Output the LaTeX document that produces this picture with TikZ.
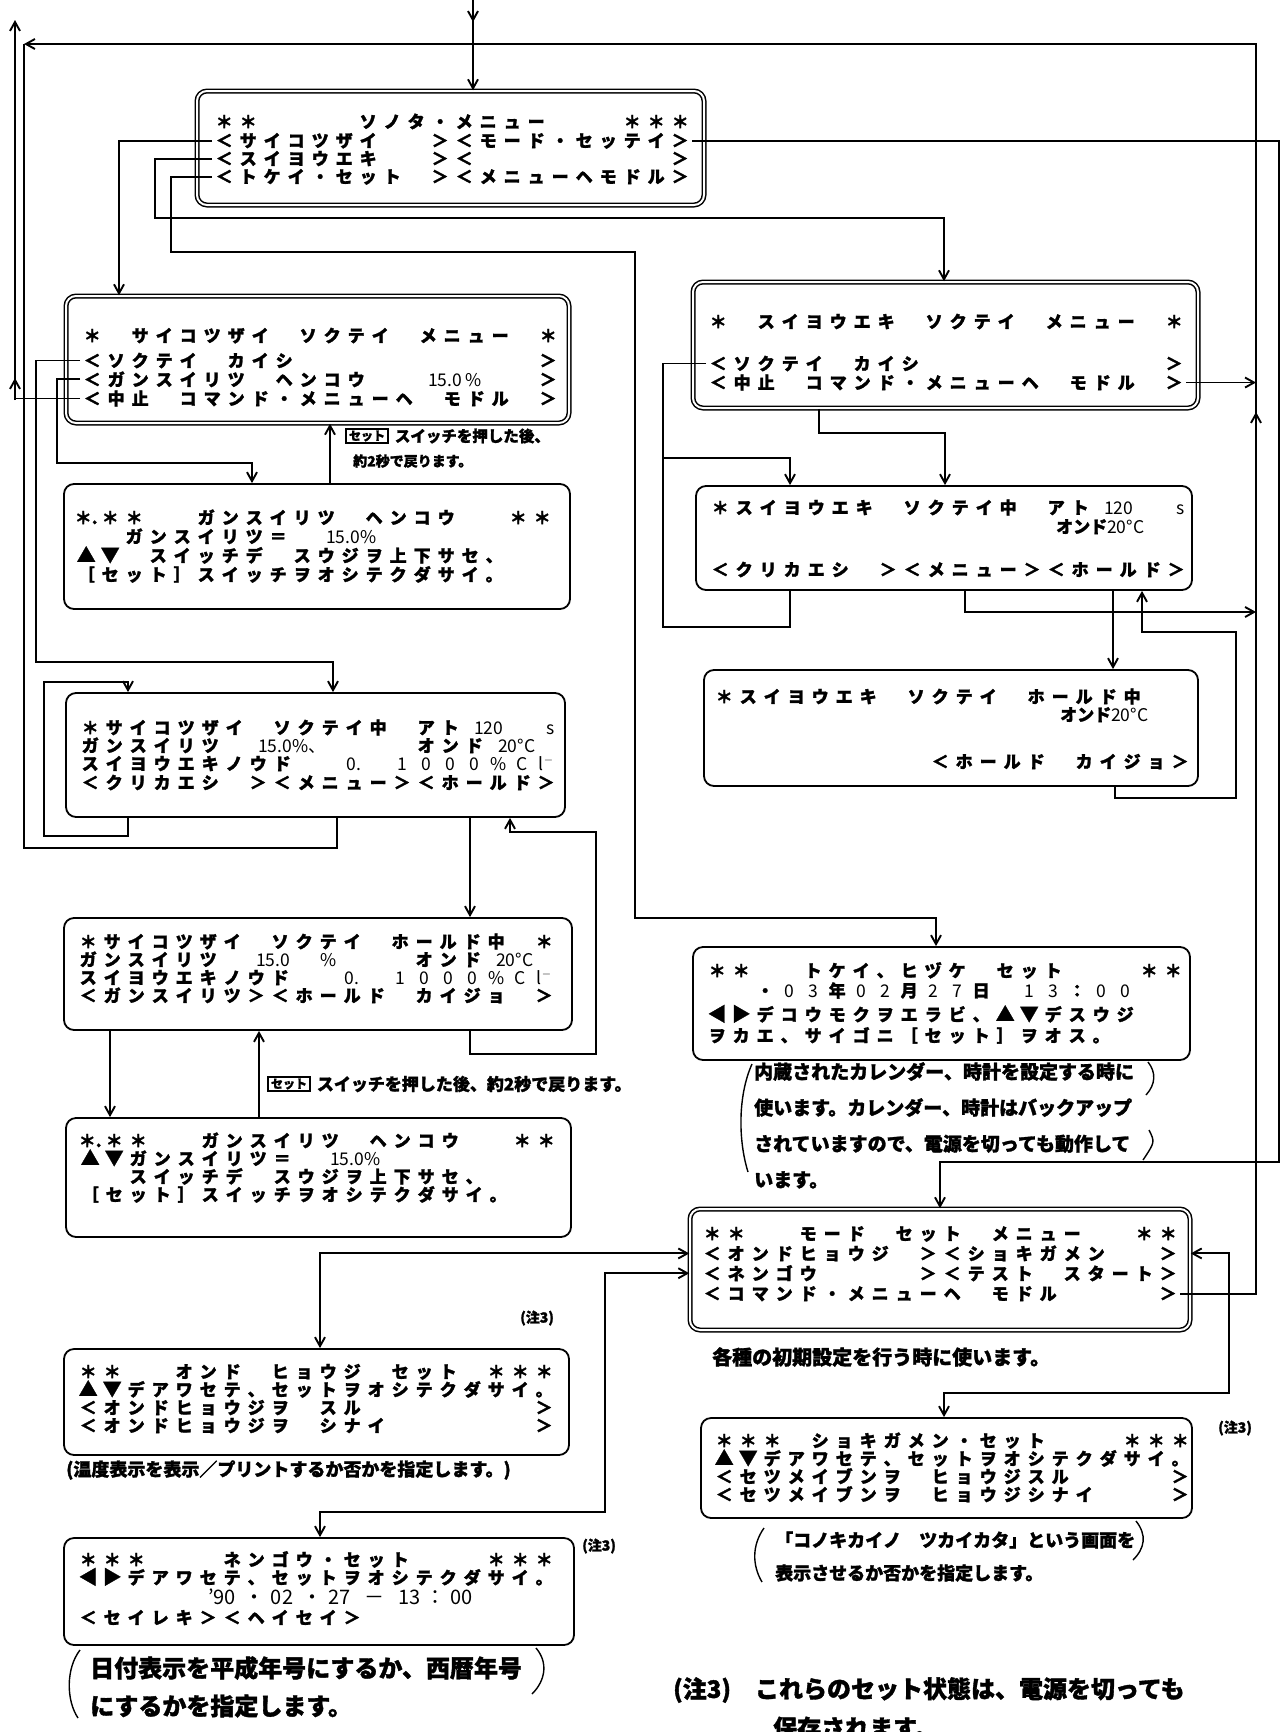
\documentclass[tikz,border=0pt]{standalone}
\usepackage{fontspec}
\usetikzlibrary{arrows.meta,positioning}
\newfontfamily\jp{Noto Sans CJK JP}[BoldFeatures={FakeBold=1.5}]
\newlength\lcdpitch
\setlength\lcdpitch{24pt}
\ExplSyntaxOn
\NewDocumentCommand\lcd{m}{\tl_map_inline:nn{#1}{\makebox[\lcdpitch][c]{##1}}}
\ExplSyntaxOff
\newcommand\lcdfont{\jp\bfseries\fontsize{17}{17}\selectfont}
\newcommand\lcdnumfont{\mdseries\fontsize{17.5}{17.5}\selectfont}
\newcommand\lcdnum[1]{\rlap{\lcdnumfont #1}}
\newcommand\lcdbig[1]{{\lcdnumfont #1}}
\newcommand\lcdsym[1]{{\fontsize{19}{19}\selectfont #1}}
\newcommand\notefont{\jp\bfseries\fontsize{14}{14}\selectfont}
\newcommand\capfont{\jp\bfseries\fontsize{18}{18}\selectfont}
\newcommand\bigcapfont{\jp\bfseries\fontsize{24}{24}\selectfont}

\begin{document}
\begin{tikzpicture}[
    x=1pt, y=-1pt,
    screen/.style={draw, rounded corners=10pt, line width=1.8pt},
    mainscreen/.style={draw, rounded corners=10pt, line width=1.5pt, double=white, double distance=2pt},
    lcdrow/.style={inner sep=0pt, anchor=base west, font=\lcdfont},
    remark/.style={inner sep=0pt, anchor=west, font=\notefont},
    setkey/.style={draw, line width=1.4pt, inner xsep=3pt, inner ysep=1.5pt, font=\jp\bfseries\fontsize{12}{12}\selectfont},
    wire/.style={line width=1.9pt},
    arrow/.style={-{Straight Barb[length=9pt,width=10pt]}, line width=1.9pt},
    twoway/.style={{Straight Barb[length=9pt,width=10pt]}-{Straight Barb[length=9pt,width=10pt]}, line width=1.9pt}
]
\useasboundingbox (0,0) rectangle (1281,1732);
\fill[white] (0,0) rectangle (1281,1732);

% ---- screens of the left column
\node[mainscreen, minimum width=507pt, minimum height=114pt] (sonota) at (450.5,148) {};
\node[lcdrow] (sonota-1) at (212,128) {\lcd{＊＊　　　　ソノタ・メニュー　　　＊＊＊}};
\node[lcdrow] (sonota-2) at (212,147) {\lcd{＜サイコツザイ　　＞＜モード・セッテイ＞}};
\node[lcdrow] (sonota-3) at (212,165) {\lcd{＜スイヨウエキ　　＞＜　　　　　　　　＞}};
\node[lcdrow] (sonota-4) at (212,183) {\lcd{＜トケイ・セット　＞＜メニューヘモドル＞}};

\node[mainscreen, minimum width=503pt, minimum height=127pt] (saimenu) at (317.5,359.5) {};
\node[lcdrow] (saimenu-1) at (80,342) {\lcd{＊　サイコツザイ　ソクテイ　メニュー　＊}};
\node[lcdrow] (saimenu-2) at (80,367) {\lcd{＜ソクテイ　カイシ　　　　　　　　　　＞}};
\node[lcdrow] (saimenu-3) at (80,386) {\lcd{＜ガンスイリツ　ヘンコウ　　{\lcdnum{15.0\,\%}}　　　　＞}};
\node[lcdrow] (saimenu-4) at (80,405) {\lcd{＜中止　コマンド・メニューヘ　モドル　＞}};

\node[screen, minimum width=506pt, minimum height=125pt] (saigan) at (317,546.5) {};
\node[lcdrow] (saigan-1) at (74,524) {\lcd{{＊.}＊＊　　ガンスイリツ　ヘンコウ　　＊＊}};
\node[lcdrow] (saigan-2) at (74,543) {\lcd{　　ガンスイリツ＝　{\lcdnum{15.0\%}}}};
\node[lcdrow] (saigan-3) at (74,562) {\lcd{{\lcdsym{▲}}{\lcdsym{▼}}　スイッチデ　スウジヲ上下サセ、}};
\node[lcdrow] (saigan-4) at (74,581) {\lcd{［セット］スイッチヲオシテクダサイ。}};

\node[screen, minimum width=499pt, minimum height=124pt] (saisoku) at (315.5,755) {};
\node[lcdrow] (saisoku-1) at (78,734) {\lcd{＊サイコツザイ　ソクテイ中　アト{\lcdnum{120}}　　{\lcdnum{s}}}};
\node[lcdrow] (saisoku-2) at (78,752) {\lcd{ガンスイリツ　{\lcdnum{15.0\%、}}　　　　　　オンド{\lcdnum{20°C}}}};
\node[lcdrow] (saisoku-3) at (78,770) {\lcd{スイヨウエキノウド　　{\lcdbig{0.}}　{\lcdbig{1}}{\lcdbig{0}}{\lcdbig{0}}{\lcdbig{0}}{\lcdbig{\%}}{\lcdbig{C}}{\lcdbig{l$^-$}}}};
\node[lcdrow] (saisoku-4) at (78,789) {\lcd{＜クリカエシ　＞＜メニュー＞＜ホールド＞}};

\node[screen, minimum width=508pt, minimum height=112pt] (saihold) at (318,974) {};
\node[lcdrow] (saihold-1) at (76,948) {\lcd{＊サイコツザイ　ソクテイ　ホールド中　＊}};
\node[lcdrow] (saihold-2) at (76,966) {\lcd{ガンスイリツ　{\lcdnum{15.0}}　　{\lcdbig{\%}}　　　オンド{\lcdnum{20°C}}}};
\node[lcdrow] (saihold-3) at (76,984) {\lcd{スイヨウエキノウド　　{\lcdbig{0.}}　{\lcdbig{1}}{\lcdbig{0}}{\lcdbig{0}}{\lcdbig{0}}{\lcdbig{\%}}{\lcdbig{C}}{\lcdbig{l$^-$}}}};
\node[lcdrow] (saihold-4) at (76,1002) {\lcd{＜ガンスイリツ＞＜ホールド　カイジョ　＞}};

\node[screen, minimum width=505pt, minimum height=119pt] (saigan2) at (318.5,1177.5) {};
\node[lcdrow] (saigan2-1) at (78,1147) {\lcd{{＊.}＊＊　　ガンスイリツ　ヘンコウ　　＊＊}};
\node[lcdrow] (saigan2-2) at (78,1165) {\lcd{{\lcdsym{▲}}{\lcdsym{▼}}ガンスイリツ＝　{\lcdnum{15.0\%}}}};
\node[lcdrow] (saigan2-3) at (78,1183) {\lcd{　　スイッチデ　スウジヲ上下サセ、}};
\node[lcdrow] (saigan2-4) at (78,1201) {\lcd{［セット］スイッチヲオシテクダサイ。}};

\node[screen, minimum width=505pt, minimum height=106pt] (ondo) at (316.5,1402) {};
\node[lcdrow] (ondo-1) at (76,1378) {\lcd{＊＊　　オンド　ヒョウジ　セット　＊＊＊}};
\node[lcdrow] (ondo-2) at (76,1396) {\lcd{{\lcdsym{▲}}{\lcdsym{▼}}デアワセテ、セットヲオシテクダサイ。}};
\node[lcdrow] (ondo-3) at (76,1414) {\lcd{＜オンドヒョウジヲ　スル　　　　　　　＞}};
\node[lcdrow] (ondo-4) at (76,1432) {\lcd{＜オンドヒョウジヲ　シナイ　　　　　　＞}};

\node[screen, minimum width=510pt, minimum height=107pt] (nengo) at (319,1591.5) {};
\node[lcdrow] (nengo-1) at (76,1566) {\lcd{＊＊＊　　　ネンゴウ・セット　　　＊＊＊}};
\node[lcdrow] (nengo-2) at (76,1584) {\lcd{{\lcdsym{◀}}{\lcdsym{▶}}デアワセテ、セットヲオシテクダサイ。}};
\node[lcdrow] (nengo-3) at (76,1604) {\lcd{　　　　　{\lcdnum{\fontsize{20}{20}\selectfont’90\hspace{9pt}・\hspace{6pt}02\hspace{9pt}・\hspace{6pt}27\hspace{14pt}－\hspace{14pt}13\hspace{5pt}：\hspace{5pt}00}}}};
\node[lcdrow] (nengo-4) at (76,1624) {\lcd{＜セイレキ＞＜ヘイセイ＞}};

% ---- screens of the right column
\node[mainscreen, minimum width=505pt, minimum height=126pt] (suimenu) at (945.5,345) {};
\node[lcdrow] (suimenu-1) at (706,328) {\lcd{＊　スイヨウエキ　ソクテイ　メニュー　＊}};
\node[lcdrow] (suimenu-2) at (706,370) {\lcd{＜ソクテイ　カイシ　　　　　　　　　　＞}};
\node[lcdrow] (suimenu-3) at (706,389) {\lcd{＜中止　コマンド・メニューヘ　モドル　＞}};

\node[screen, minimum width=496pt, minimum height=104pt] (suisoku) at (944,538) {};
\node[lcdrow] (suisoku-1) at (708,514) {\lcd{＊スイヨウエキ　ソクテイ中　アト{\lcdnum{120}}　　{\lcdnum{s}}}};
\node[lcdrow] (suisoku-2) at (708,533) {\lcd{　　　　　　　　　　　　　　{\rlap{オンド\lcdnumfont 20°C}}}};
\node[lcdrow] (suisoku-4) at (708,576) {\lcd{＜クリカエシ　＞＜メニュー＞＜ホールド＞}};

\node[screen, minimum width=494pt, minimum height=116pt] (suihold) at (951,728) {};
\node[lcdrow] (suihold-1) at (712,703) {\lcd{＊スイヨウエキ　ソクテイ　ホールド中}};
\node[lcdrow] (suihold-2) at (712,721) {\lcd{　　　　　　　　　　　　　　{\rlap{オンド\lcdnumfont 20°C}}}};
\node[lcdrow] (suihold-4) at (712,768) {\lcd{　　　　　　　　　＜ホールド　カイジョ＞}};

\node[screen, minimum width=497pt, minimum height=113pt] (tokei) at (941.5,1003.5) {};
\node[lcdrow] (tokei-1) at (705,977) {\lcd{＊＊　　トケイ、ヒヅケ　セット　　　＊＊}};
\node[lcdrow] (tokei-2) at (705,997) {\lcd{　　・{\lcdbig{0}}{\lcdbig{3}}年{\lcdbig{0}}{\lcdbig{2}}月{\lcdbig{2}}{\lcdbig{7}}日　{\lcdbig{1}}{\lcdbig{3}}：{\lcdbig{0}}{\lcdbig{0}}}};
\node[lcdrow] (tokei-3) at (705,1021) {\lcd{{\lcdsym{◀}}{\lcdsym{▶}}デコウモクヲエラビ、{\lcdsym{▲}}{\lcdsym{▼}}デスウジ}};
\node[lcdrow] (tokei-4) at (705,1042) {\lcd{ヲカエ、サイゴニ［セット］ヲオス。}};

\node[mainscreen, minimum width=500pt, minimum height=121pt] (mode) at (940,1269.5) {};
\node[lcdrow] (mode-1) at (700,1240) {\lcd{＊＊　　モード　セット　メニュー　　＊＊}};
\node[lcdrow] (mode-2) at (700,1260) {\lcd{＜オンドヒョウジ　＞＜ショキガメン　　＞}};
\node[lcdrow] (mode-3) at (700,1280) {\lcd{＜ネンゴウ　　　　＞＜テスト　スタート＞}};
\node[lcdrow] (mode-4) at (700,1300) {\lcd{＜コマンド・メニューヘ　モドル　　　　＞}};

\node[screen, minimum width=491pt, minimum height=100pt] (shoki) at (946.5,1468) {};
\node[lcdrow] (shoki-1) at (712,1447) {\lcd{＊＊＊　ショキガメン・セット　　　＊＊＊}};
\node[lcdrow] (shoki-2) at (712,1465) {\lcd{{\lcdsym{▲}}{\lcdsym{▼}}デアワセテ、セットヲオシテクダサイ。}};
\node[lcdrow] (shoki-3) at (712,1483) {\lcd{＜セツメイブンヲ　ヒョウジスル　　　　＞}};
\node[lcdrow] (shoki-4) at (712,1501) {\lcd{＜セツメイブンヲ　ヒョウジシナイ　　　＞}};

% ---- notes
\node[setkey] (setkey-a) at (367,436) {セット};
\node[remark, font=\jp\bfseries\fontsize{15.5}{15.5}\selectfont, right=6pt of setkey-a] (press-a) {スイッチを押した後、};
\node[remark] (back-a) at (353,461) {約2秒で戻ります。};
\node[setkey] (setkey-b) at (289,1084) {セット};
\node[remark, font=\jp\bfseries\fontsize{17}{17}\selectfont, right=6pt of setkey-b] (press-b) {スイッチを押した後、約2秒で戻ります。};

\node[remark] (note-ondo) at (520,1318) {(注3)};
\node[remark] (note-nengo) at (582,1546) {(注3)};
\node[remark] (note-shoki) at (1218,1428) {(注3)};

\node[remark, font=\capfont] (ondo-cap) at (66,1470) {(温度表示を表示／プリントするか否かを指定します。)};
\node[remark, font=\jp\bfseries\fontsize{20}{20}\selectfont] (mode-cap) at (712,1357) {各種の初期設定を行う時に使います。};
\node[remark, font=\jp\bfseries\fontsize{19}{36}\selectfont, align=left, anchor=north west] (tokei-cap) at (754,1062)
    {内蔵されたカレンダー、時計を設定する時に\\使います。カレンダー、時計はバックアップ\\されていますので、電源を切っても動作して\\います。};
\node[remark, font=\capfont] (shoki-cap1) at (775,1540) {「コノキカイノ　ツカイカタ」という画面を};
\node[remark, font=\capfont] (shoki-cap2) at (775,1573) {表示させるか否かを指定します。};
\node[remark, font=\bigcapfont] (nengo-cap1) at (90,1668) {日付表示を平成年号にするか、西暦年号};
\node[remark, font=\bigcapfont] (nengo-cap2) at (90,1706) {にするかを指定します。};
\node[remark, font=\bigcapfont] (memo-1) at (673,1690) {(注3)　これらのセット状態は、電源を切っても};
\node[remark, font=\bigcapfont] (memo-2) at (773,1728) {保存されます。};

% parentheses round the notes
\draw[line width=1.4pt] (752,1064) .. controls (738,1095) and (738,1140) .. (748,1172);
\draw[line width=1.4pt] (1148,1062) .. controls (1156,1072) and (1156,1084) .. (1146,1095);
\draw[line width=1.4pt] (1149,1130) .. controls (1155,1142) .. (1143,1160);
\draw[line width=1.4pt] (764,1528) .. controls (752,1545) and (752,1565) .. (762,1582);
\draw[line width=1.4pt] (1136,1521) .. controls (1147,1535) and (1145,1548) .. (1133,1560);
\draw[line width=1.4pt] (80,1650) .. controls (66,1668) and (66,1700) .. (78,1718);
\draw[line width=1.4pt] (536,1648) .. controls (548,1662) and (546,1680) .. (532,1694);

% ---- connectors
\coordinate (entry) at (473,0);
\draw[arrow] (entry) -- (sonota.north -| entry);
\draw[arrow] (entry) -- ++(0,22);

\draw[arrow] (sonota-2.west) -| (saimenu.north -| 119,0);
\draw[arrow] (sonota-3.west) -| (155,218) -| (suimenu.north -| 944,0);
\draw[arrow] (sonota-4.west) -| (171,252) -| (635,918) -| (tokei.north -| 936,0);
\draw[arrow] (sonota-2.east) -| (1279,1162) -| (mode.north -| 940,0);

\draw[arrow] (saimenu-2.west) -| (36,662) -| (saisoku.north -| 333,0);
\draw[arrow] (saimenu-3.west) -| (57,463) -| (saigan.north -| 252,0);
\draw[arrow] (saimenu-4.west) -| (15,20);
\draw[arrow] (15,400) -- (15,378);
\draw[arrow] (saigan.north -| 330,0) -- (saimenu.south -| 330,0);

\draw[arrow] (saisoku.south -| 128,0) |- (44,836) |- (128,682) -- (saisoku.north -| 128,0);
\draw[wire] (saisoku.south -| 337,0) |- (24,848) -- (24,44);
\draw[arrow] (saisoku.south -| 470,0) -- (saihold.north -| 470,0);
\draw[arrow] (saihold.south -| 470,0) |- (596,1054) |- (510,832) -- (saisoku.south -| 510,0);
\draw[arrow] (saihold.south -| 110,0) -- (saigan2.north -| 110,0);
\draw[arrow] (saigan2.north -| 259,0) -- (saihold.south -| 259,0);

\draw[arrow] (suimenu-2.west) -| (663,458) -| (suisoku.north -| 790,0);
\draw[wire] (suisoku.south -| 790,0) |- (663,627) -- (663,458);
\draw[arrow] (suimenu.south -| 819,0) |- (945,433) -- (suisoku.north -| 945,0);
\draw[arrow] (suimenu-3.east) -- (suimenu-3.east -| 1256,0);
\draw[arrow] (suisoku.south -| 965,0) |- (1256,612);
\draw[arrow] (suisoku.south -| 1113,0) -- (suihold.north -| 1113,0);
\draw[arrow] (suihold.south -| 1115,0) |- (1236,798) |- (1142,632) -- (suisoku.south -| 1142,0);

\draw[twoway] (mode.west |- mode-2.west) -| (ondo.north -| 320,0);
\draw[twoway] (mode.west |- mode-3.west) -| (605,1512) -| (nengo.north -| 320,0);
\draw[twoway] (mode.east |- mode-2.east) -| (1229,1393) -| (shoki.north -| 944,0);
\draw[arrow] (mode-4.east) -| (1256,44) -- (24,44);
\draw[arrow] (1256,440) -- (1256,412);
\end{tikzpicture}
\end{document}
